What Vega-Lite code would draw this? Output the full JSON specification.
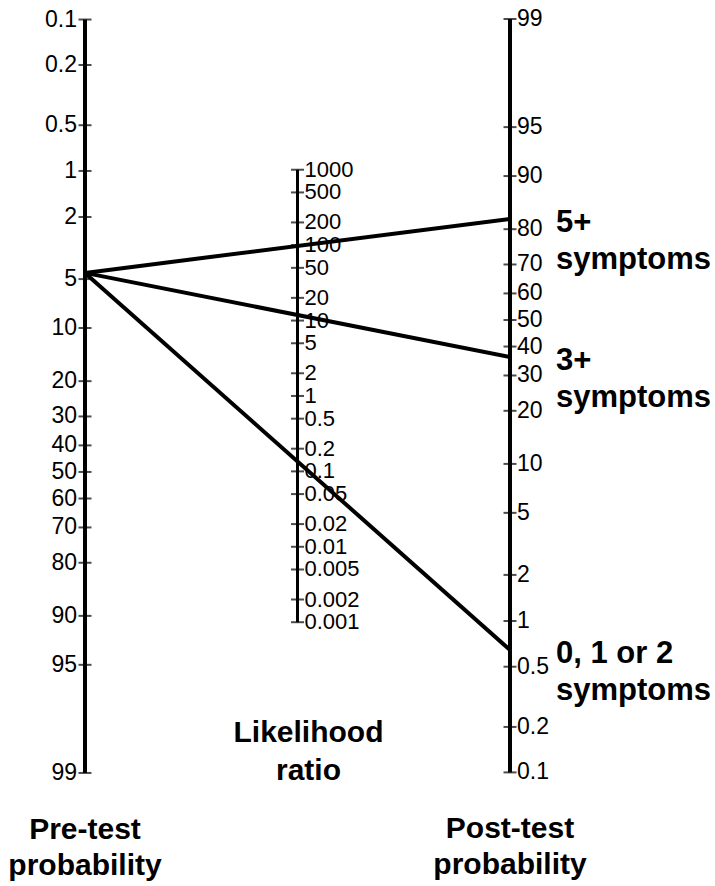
{
  "$schema": "https://vega.github.io/schema/vega-lite/v6.json",
  "width": 715,
  "height": 886,
  "autosize": "none",
  "padding": 0,
  "background": "white",
  "config": {"view": {"stroke": null}, "font": "Liberation Sans", "scale": {"pointPadding": 0}},
  "datasets": {
    "ticks": [
      {"axis": "pre", "v": 0.1}, {"axis": "pre", "v": 0.2}, {"axis": "pre", "v": 0.5}, {"axis": "pre", "v": 1},
      {"axis": "pre", "v": 2}, {"axis": "pre", "v": 5}, {"axis": "pre", "v": 10}, {"axis": "pre", "v": 20},
      {"axis": "pre", "v": 30}, {"axis": "pre", "v": 40}, {"axis": "pre", "v": 50}, {"axis": "pre", "v": 60},
      {"axis": "pre", "v": 70}, {"axis": "pre", "v": 80}, {"axis": "pre", "v": 90}, {"axis": "pre", "v": 95},
      {"axis": "pre", "v": 99},
      {"axis": "lr", "v": 1000}, {"axis": "lr", "v": 500}, {"axis": "lr", "v": 200}, {"axis": "lr", "v": 100},
      {"axis": "lr", "v": 50}, {"axis": "lr", "v": 20}, {"axis": "lr", "v": 10}, {"axis": "lr", "v": 5},
      {"axis": "lr", "v": 2}, {"axis": "lr", "v": 1}, {"axis": "lr", "v": 0.5}, {"axis": "lr", "v": 0.2},
      {"axis": "lr", "v": 0.1}, {"axis": "lr", "v": 0.05}, {"axis": "lr", "v": 0.02}, {"axis": "lr", "v": 0.01},
      {"axis": "lr", "v": 0.005}, {"axis": "lr", "v": 0.002}, {"axis": "lr", "v": 0.001},
      {"axis": "post", "v": 99}, {"axis": "post", "v": 95}, {"axis": "post", "v": 90}, {"axis": "post", "v": 80},
      {"axis": "post", "v": 70}, {"axis": "post", "v": 60}, {"axis": "post", "v": 50}, {"axis": "post", "v": 40},
      {"axis": "post", "v": 30}, {"axis": "post", "v": 20}, {"axis": "post", "v": 10}, {"axis": "post", "v": 5},
      {"axis": "post", "v": 2}, {"axis": "post", "v": 1}, {"axis": "post", "v": 0.5}, {"axis": "post", "v": 0.2},
      {"axis": "post", "v": 0.1}
    ],
    "patients": [
      {"group": "5+\nsymptoms", "axis": "pre", "v": 4.57},
      {"group": "5+\nsymptoms", "axis": "post", "v": 82.4},
      {"group": "3+\nsymptoms", "axis": "pre", "v": 4.57},
      {"group": "3+\nsymptoms", "axis": "post", "v": 36.2},
      {"group": "0, 1 or 2\nsymptoms", "axis": "pre", "v": 4.57},
      {"group": "0, 1 or 2\nsymptoms", "axis": "post", "v": 0.645}
    ],
    "titles": [
      {"axis": "pre", "v": 99, "title": "Pre-test\nprobability"},
      {"axis": "lr", "v": 0.001, "title": "Likelihood\nratio"},
      {"axis": "post", "v": 0.1, "title": "Post-test\nprobability"}
    ]
  },
  "encoding": {
    "x": {"field": "axis", "type": "nominal", "scale": {"type": "point", "domain": ["pre", "lr", "post"], "range": [85, 510], "padding": 0}, "axis": null},
    "y": {"field": "u", "type": "quantitative", "scale": {"domain": [-4.885, 8.641], "range": [0, 886], "zero": false, "nice": false}, "axis": null}
  },
  "layer": [
    {
      "data": {"name": "ticks"},
      "transform": [
        {"calculate": "datum.axis == 'pre' ? log(datum.v / (100 - datum.v)) + 2.32 : datum.axis == 'post' ? -log(datum.v / (100 - datum.v)) : 1.16 - log(datum.v) / 2", "as": "u"},
        {"filter": "datum.axis != 'lr'"}
      ],
      "mark": {"type": "line", "color": "black", "strokeWidth": 4},
      "encoding": {"detail": {"field": "axis"}, "order": {"field": "u", "type": "quantitative"}}
    },
    {
      "data": {"name": "ticks"},
      "transform": [
        {"calculate": "datum.axis == 'pre' ? log(datum.v / (100 - datum.v)) + 2.32 : datum.axis == 'post' ? -log(datum.v / (100 - datum.v)) : 1.16 - log(datum.v) / 2", "as": "u"},
        {"filter": "datum.axis == 'lr'"}
      ],
      "mark": {"type": "line", "color": "black", "strokeWidth": 3},
      "encoding": {"detail": {"field": "axis"}, "order": {"field": "u", "type": "quantitative"}}
    },
    {
      "data": {"name": "ticks"},
      "transform": [
        {"calculate": "datum.axis == 'pre' ? log(datum.v / (100 - datum.v)) + 2.32 : datum.axis == 'post' ? -log(datum.v / (100 - datum.v)) : 1.16 - log(datum.v) / 2", "as": "u"}
      ],
      "mark": {"type": "tick", "orient": "horizontal", "color": "black", "size": 13, "thickness": 2}
    },
    {
      "data": {"name": "ticks"},
      "transform": [
        {"calculate": "datum.axis == 'pre' ? log(datum.v / (100 - datum.v)) + 2.32 : datum.axis == 'post' ? -log(datum.v / (100 - datum.v)) : 1.16 - log(datum.v) / 2", "as": "u"},
        {"filter": "datum.axis == 'pre'"}
      ],
      "mark": {"type": "text", "align": "right", "baseline": "middle", "dx": -8, "fontSize": 23, "color": "black"},
      "encoding": {"text": {"field": "v", "type": "nominal"}}
    },
    {
      "data": {"name": "ticks"},
      "transform": [
        {"calculate": "datum.axis == 'pre' ? log(datum.v / (100 - datum.v)) + 2.32 : datum.axis == 'post' ? -log(datum.v / (100 - datum.v)) : 1.16 - log(datum.v) / 2", "as": "u"},
        {"filter": "datum.axis == 'post'"}
      ],
      "mark": {"type": "text", "align": "left", "baseline": "middle", "dx": 7, "fontSize": 23, "color": "black"},
      "encoding": {"text": {"field": "v", "type": "nominal"}}
    },
    {
      "data": {"name": "ticks"},
      "transform": [
        {"calculate": "datum.axis == 'pre' ? log(datum.v / (100 - datum.v)) + 2.32 : datum.axis == 'post' ? -log(datum.v / (100 - datum.v)) : 1.16 - log(datum.v) / 2", "as": "u"},
        {"filter": "datum.axis == 'lr'"}
      ],
      "mark": {"type": "text", "align": "left", "baseline": "middle", "dx": 7, "fontSize": 22, "color": "black"},
      "encoding": {"text": {"field": "v", "type": "nominal"}}
    },
    {
      "data": {"name": "patients"},
      "transform": [
        {"calculate": "datum.axis == 'pre' ? log(datum.v / (100 - datum.v)) + 2.32 : datum.axis == 'post' ? -log(datum.v / (100 - datum.v)) : 1.16 - log(datum.v) / 2", "as": "u"}
      ],
      "mark": {"type": "line", "color": "black", "strokeWidth": 4},
      "encoding": {"detail": {"field": "group"}}
    },
    {
      "data": {"name": "patients"},
      "transform": [
        {"calculate": "datum.axis == 'pre' ? log(datum.v / (100 - datum.v)) + 2.32 : datum.axis == 'post' ? -log(datum.v / (100 - datum.v)) : 1.16 - log(datum.v) / 2", "as": "u"},
        {"filter": "datum.axis == 'post'"}
      ],
      "mark": {"type": "text", "align": "left", "baseline": "middle", "dx": 46, "dy": 4, "fontSize": 31, "fontWeight": "bold", "lineBreak": "\n", "lineHeight": 37, "color": "black"},
      "encoding": {"text": {"field": "group", "type": "nominal"}}
    },
    {
      "data": {"name": "titles"},
      "transform": [
        {"calculate": "datum.axis == 'pre' ? log(datum.v / (100 - datum.v)) + 2.32 : datum.axis == 'post' ? -log(datum.v / (100 - datum.v)) : 1.16 - log(datum.v) / 2", "as": "u"},
        {"filter": "datum.axis != 'lr'"}
      ],
      "mark": {"type": "text", "align": "center", "baseline": "alphabetic", "dy": 66, "fontSize": 30, "fontWeight": "bold", "lineBreak": "\n", "lineHeight": 36, "color": "black"},
      "encoding": {"text": {"field": "title", "type": "nominal"}}
    },
    {
      "data": {"name": "titles"},
      "transform": [
        {"calculate": "datum.axis == 'pre' ? log(datum.v / (100 - datum.v)) + 2.32 : datum.axis == 'post' ? -log(datum.v / (100 - datum.v)) : 1.16 - log(datum.v) / 2", "as": "u"},
        {"filter": "datum.axis == 'lr'"}
      ],
      "mark": {"type": "text", "align": "center", "baseline": "alphabetic", "dx": 11, "dy": 120, "fontSize": 30, "fontWeight": "bold", "lineBreak": "\n", "lineHeight": 38, "color": "black"},
      "encoding": {"text": {"field": "title", "type": "nominal"}}
    }
  ]
}
